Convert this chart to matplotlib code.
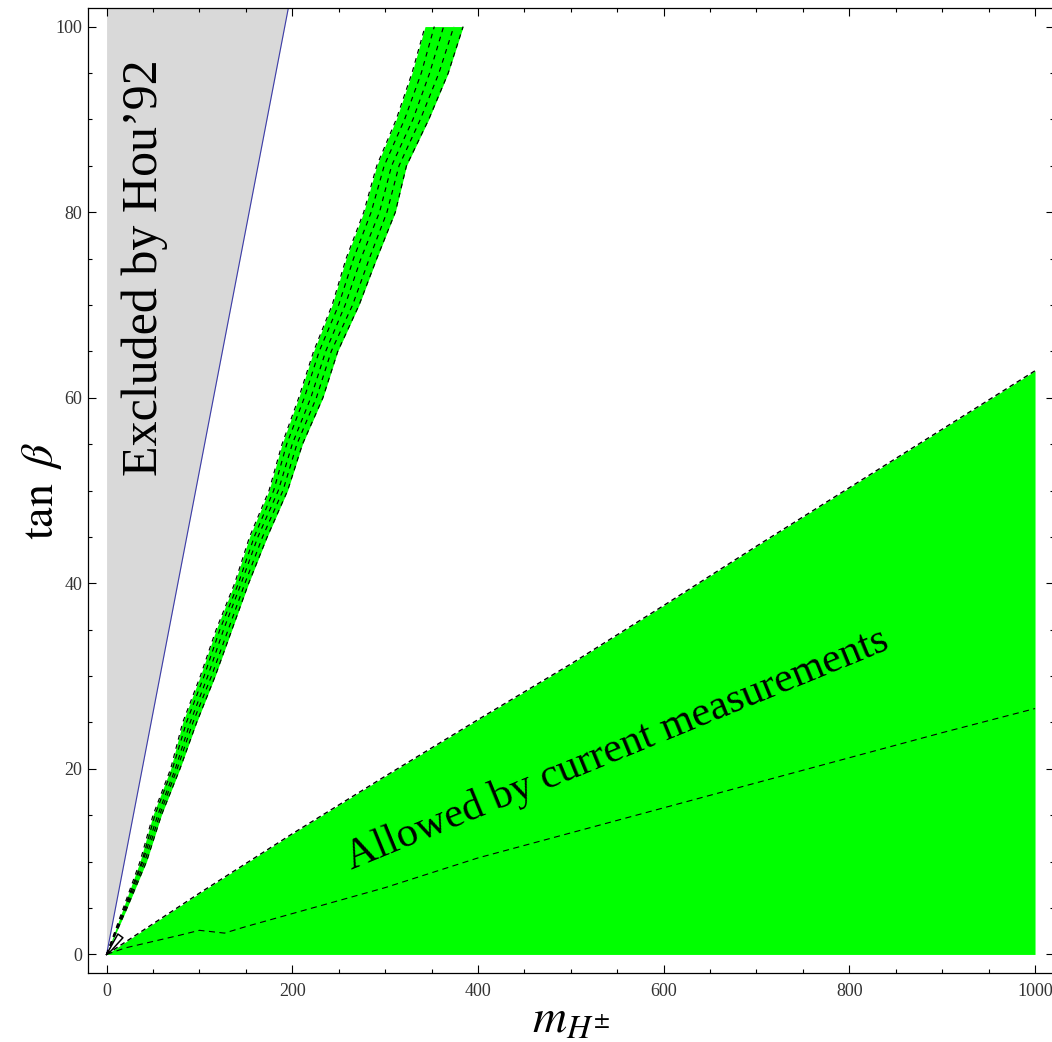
import matplotlib
matplotlib.use("Agg")
import matplotlib.pyplot as plt
from matplotlib.ticker import MultipleLocator

plt.rcParams['font.family'] = ['Liberation Serif', 'DejaVu Serif']
plt.rcParams['mathtext.fontset'] = 'stix'

# ---------------- data ----------------
# excluded region (Hou '92): tan(beta) boundary line through origin
hou_m = [0, 200]
hou_tb = [0, 104.2]

# narrow allowed band (tan beta levels and m_H edges + inner contours)
band_tb = [0, 5, 10, 15, 20, 25, 30, 35, 40, 45, 50, 55, 60, 65, 70, 75, 80, 85, 90, 95, 100]
band_left = [0, 18, 36, 50, 69, 82, 101, 118, 138, 154, 175, 189, 207, 223, 243, 258, 277, 291, 312, 329, 343]
band_c1 = [0, 19, 38, 52, 71, 86, 105, 122, 142, 159, 180, 194, 213, 229, 250, 266, 285, 299, 321, 339, 353]
band_c2 = [0, 20, 39, 55, 74, 90, 109, 126, 145, 163, 185, 200, 220, 236, 257, 274, 294, 307, 330, 348, 363]
band_c3 = [0, 21, 41, 57, 76, 93, 113, 131, 149, 168, 190, 205, 226, 242, 265, 283, 302, 315, 338, 358, 374]
band_right = [0, 22, 43, 59, 79, 97, 117, 135, 153, 173, 195, 211, 233, 249, 272, 291, 311, 323, 347, 368, 384]

# small loop near the origin
loop_m = [0, 5, 17.6, 12.2, 0]
loop_tb = [0, 0.4, 1.8, 2.2, 0]

# wide allowed wedge: upper boundary
wide_m = [0, 100, 200, 300, 400, 500, 600, 700, 800, 900, 1000]
wide_upper = [0, 6.6, 13.0, 19.2, 25.3, 31.3, 37.6, 44.0, 50.3, 56.6, 62.9]

# dashed contour inside wide wedge
low_m = [0, 20, 50, 80, 100, 127, 150, 200, 250, 300, 400, 500, 600, 700, 800, 900, 1000]
low_tb = [0, 0.7, 1.4, 2.1, 2.6, 2.3, 3.0, 4.4, 5.8, 7.2, 10.4, 13.1, 15.8, 18.5, 21.2, 23.9, 26.5]

x_ticks = [0, 200, 400, 600, 800, 1000]
y_ticks = [0, 20, 40, 60, 80, 100]

# ---------------- figure ----------------
W, H = 1052, 1042
fig = plt.figure(figsize=(W / 100, H / 100), dpi=100)
ax = fig.add_axes([88 / W, (H - 973) / H, (1053.6 - 88) / W, (973 - 8) / H])
ax.set_xlim(-20, 1020)
ax.set_ylim(-2, 102)

GREEN = '#00ff00'

# grey excluded region
ax.fill_betweenx([0, 104.2], [0, 0], hou_m, color='#d9d9d9', lw=0, zorder=1)
ax.plot(hou_m, hou_tb, color='#3c3ca8', lw=0.8, zorder=2)

# wide wedge
ax.fill_between(wide_m, 0, wide_upper, color=GREEN, lw=0, zorder=1)
ax.plot(wide_m, wide_upper, color='black', lw=1.0, dashes=(3.5, 2.5), zorder=3)
ax.plot(low_m, low_tb, color='black', lw=0.8, dashes=(5.5, 4.0), zorder=3)

# narrow band
ax.fill_betweenx(band_tb, band_left, band_right, color=GREEN, lw=0, zorder=1)
for xs in (band_left, band_c1, band_c2, band_c3, band_right):
    ax.plot(xs, band_tb, color='black', lw=0.85, dashes=(4.0, 4.0), zorder=3)
ax.plot(loop_m, loop_tb, color='black', lw=1.1, zorder=3)

# annotations
ax.text(54, 74, 'Excluded by Hou\u201992', rotation=90, rotation_mode='anchor',
        ha='center', va='baseline', fontsize=36, color='black', zorder=5)
ax.text(554, 21.0, 'Allowed by current measurements', rotation=22.3,
        rotation_mode='anchor', ha='center', va='baseline', fontsize=30.5,
        color='black', zorder=5)

# axes styling
ax.xaxis.set_major_locator(MultipleLocator(200))
ax.xaxis.set_minor_locator(MultipleLocator(50))
ax.yaxis.set_major_locator(MultipleLocator(20))
ax.yaxis.set_minor_locator(MultipleLocator(5))
ax.set_xticks(x_ticks)
ax.set_yticks(y_ticks)
ax.set_xticklabels([str(v) for v in x_ticks])
ax.set_yticklabels([str(v) for v in y_ticks])
ax.tick_params(which='both', direction='in', top=True, right=True,
               labelsize=13, labelcolor='#333333', width=0.8)
ax.tick_params(which='major', length=5.5)
ax.tick_params(which='minor', length=3)
ax.tick_params(axis='x', pad=7)
ax.tick_params(axis='y', pad=4)
for s in ax.spines.values():
    s.set_linewidth(0.9)

ax.set_xlabel(r'$m_{H^{\pm}}$', fontsize=34, labelpad=0)
ax.set_ylabel(r'$\tan\ \beta$', fontsize=33, labelpad=-6)

fig.savefig('out.png', dpi=100)
